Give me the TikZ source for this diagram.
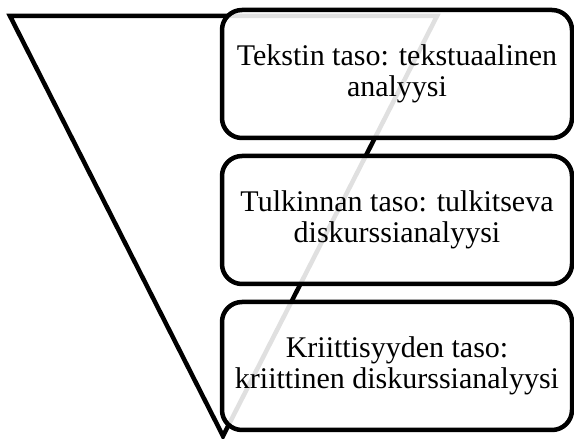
\documentclass[tikz,border=0pt]{standalone}
\usepackage{fontspec}
\setmainfont{Liberation Serif}
\begin{document}
\begin{tikzpicture}[x=1pt,y=1pt,node distance=146pt,
			thick,level box/.style = {rectangle,draw,line width=4.5pt,rounded corners=20pt,fill=white,fill opacity=0.88,text opacity=1,
			minimum width=350pt,minimum height=128pt,align=center,font=\fontsize{30}{31}\selectfont}]
			\useasboundingbox (0,0) rectangle (574,439);
			
			\draw[line width=4.5pt,miter limit=20] (10,423) -- (437,423) -- (223,3) -- cycle;
			
			\node[level box] (1) at (397,365) {Tekstin taso: tekstuaalinen\\analyysi};
			\node[level box] [below of = 1](2) {Tulkinnan taso: tulkitseva\\diskurssianalyysi};
			\node[level box] [below of = 2](3) {Kriittisyyden taso:\\kriittinen diskurssianalyysi};
			
			\end{tikzpicture}
\end{document}
